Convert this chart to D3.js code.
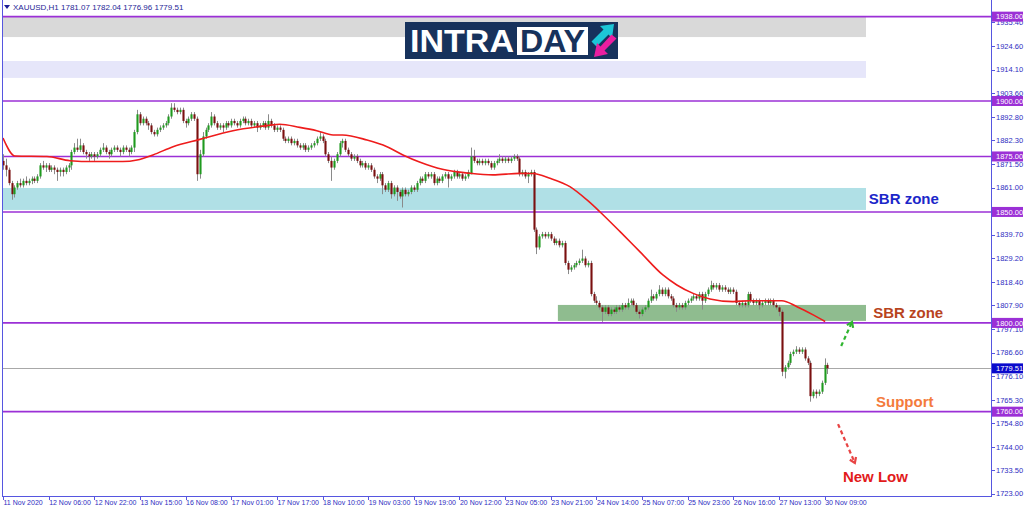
<!DOCTYPE html>
<html><head><meta charset="utf-8">
<script src="https://cdn.jsdelivr.net/npm/d3@7/dist/d3.min.js"></script>
<style>body{margin:0;background:#fff;overflow:hidden}svg{display:block}</style>
</head><body><svg id="c" width="1024" height="511"></svg>
<script>
// ---------- DATA (OHLC per H1 bar) ----------
const week1 = [
[1873,1876,1869,1871],[1871,1874,1866,1869],[1869,1870,1862,1863],[1863,1864,1855.5,1858],[1858,1862,1856.5,1861],
[1861,1864,1860,1863],[1863,1865,1861,1862],[1862,1865,1861,1864],[1864,1866,1862,1863],[1863,1865,1862,1864],
[1864,1866,1862.5,1865],[1865,1866,1863,1864],[1864,1867,1863,1866],[1866,1872,1865,1871],[1871,1873,1869,1870],
[1870,1872,1868,1871],[1871,1872,1868,1869],[1869,1871,1868,1870],[1870,1871,1867,1869],[1869,1870,1864,1868],
[1868,1870,1866,1869],[1869,1870,1866,1868],[1868,1871,1867,1870],[1870,1872,1868,1871],[1871,1878,1869,1877],
[1877,1881,1876,1879],[1879,1883,1877,1878],[1878,1883,1877,1880],[1880,1881,1876,1877],[1877,1878,1874,1876],
[1876,1877,1873,1875],[1875,1877,1874,1876],[1876,1877,1873,1875],[1875,1877,1874,1876],[1876,1879,1875,1878],
[1878,1881,1877,1879],[1879,1880,1876,1877],[1877,1878,1874,1876],[1876,1879,1875,1878],[1878,1880,1877,1879],
[1879,1880,1877,1878],[1878,1879,1875,1877],[1877,1880,1876,1879],[1879,1880,1877,1878],[1878,1879,1875,1877],
[1877,1880,1876,1879],[1879,1887,1877,1886],[1886,1896,1885,1894],[1894,1895,1889,1890],[1890,1893,1889,1892],
[1892,1893,1889,1890],[1890,1891,1887,1889],[1889,1890,1885,1886],[1886,1887,1884,1885],[1885,1888,1884,1887],
[1887,1889,1886,1888]
];
const week2 = [
[1888,1890,1887,1889],[1889,1891,1888,1890],[1890,1894,1889,1893],[1893,1899,1892,1897],[1897,1899,1895,1896],
[1896,1897,1894,1895],[1895,1897,1894,1896],[1896,1897,1890,1891],[1891,1892,1888,1890],[1890,1893,1889,1892],
[1892,1895,1891,1894],[1894,1895,1891,1892],[1892,1893,1864,1867],[1867,1878,1865,1876],[1876,1886,1875,1884],
[1884,1888,1883,1887],[1887,1890,1886,1889],[1889,1895,1888,1893],[1893,1894,1889,1890],[1890,1891,1887,1888],
[1888,1890,1887,1889],[1889,1890,1886,1888],[1888,1891,1887,1890],[1890,1891,1888,1889],[1889,1892,1888,1891],
[1891,1892,1889,1890],[1890,1891,1888,1889],[1889,1892,1888,1891],[1891,1893,1890,1892],[1892,1893,1889,1890],
[1890,1892,1889,1891],[1891,1892,1888,1889],[1889,1891,1888,1890],[1890,1891,1886,1888],[1888,1890,1887,1889],
[1889,1891,1888,1890],[1890,1891,1887,1888],[1888,1894,1887,1891],[1891,1892,1888,1889],[1889,1890,1886,1887],
[1887,1889,1886,1888],[1888,1889,1886,1887],[1887,1888,1882,1883],[1883,1884,1881,1882],[1882,1884,1881,1883],
[1883,1884,1880,1881],[1881,1883,1880,1882],[1882,1883,1879,1880],[1880,1881,1878,1879],[1879,1881,1878,1880],
[1880,1881,1877,1878],[1878,1880,1877,1879],[1879,1881,1878,1880],[1880,1882,1879,1881],[1881,1884,1880,1883],
[1883,1886,1882,1884],[1884,1885,1881,1882],[1882,1883,1875,1876],[1876,1877,1872,1873],[1873,1875,1864,1870],
[1870,1874,1869,1873],[1873,1877,1872,1876],[1876,1882,1875,1881],[1881,1883,1879,1882],[1882,1883,1877,1878],
[1878,1879,1875,1876],[1876,1877,1873,1874],[1874,1876,1873,1875],[1875,1876,1872,1873],[1873,1874,1870,1871],
[1871,1873,1870,1872],[1872,1873,1869,1870],[1870,1872,1869,1871],[1871,1872,1868,1869],[1869,1870,1865,1866],
[1866,1867,1863,1865],[1865,1868,1864,1867],[1867,1868,1858,1862],[1862,1863,1859,1860],[1860,1864,1859,1863],
[1863,1864,1856,1858],[1858,1862,1857,1861],[1861,1862,1855,1859],[1859,1860,1856,1857],[1857,1861,1852,1860],
[1860,1861,1857,1858],[1858,1860,1857,1859],[1859,1862,1858,1861],[1861,1862,1859,1860],[1860,1864,1859,1863],
[1863,1866,1862,1865],[1865,1866,1863,1864],[1864,1868,1863,1867],[1867,1868,1865,1866],[1866,1868,1865,1867],
[1867,1868,1862,1863],[1863,1866,1862,1865],[1865,1866,1863,1864],[1864,1867,1863,1866],[1866,1868,1865,1867],
[1867,1868,1861,1865],[1865,1867,1864,1866],[1866,1869,1865,1868],[1868,1869,1865,1866],[1866,1868,1865,1867],
[1867,1868,1864,1865],[1865,1867,1864,1866],[1866,1869,1865,1868],[1867,1879,1867,1875],[1875,1878,1872,1873],
[1873,1874,1871,1872],[1872,1874,1871,1873],[1873,1874,1871,1872],[1872,1874,1871,1873],[1873,1874,1871,1872]
];
const week3 = [
[1872,1873,1869,1870],[1870,1873,1869,1872],[1872,1874,1871,1873],[1873,1876,1872,1874],[1874,1875,1872,1873],
[1873,1875,1872,1874],[1874,1875,1872,1873],[1873,1875,1872,1874],[1874,1876,1873,1875],[1875,1876,1873,1874],
[1874,1875,1866,1867],[1867,1869,1866,1868],[1868,1869,1865,1866],[1866,1868,1863,1867],[1867,1869,1866,1868],
[1868,1869,1841,1842],[1842,1843,1831,1834],[1834,1840,1833,1839],[1839,1841,1838,1840],[1840,1841,1838,1839],
[1839,1841,1838,1840],[1840,1841,1837,1838],[1838,1839,1835,1836],[1836,1838,1835,1837],[1837,1838,1834,1835],
[1835,1837,1834,1836],[1836,1837,1826,1827],[1827,1828,1822,1824],[1824,1826,1823,1825],[1825,1827,1824,1826],
[1826,1828,1825,1827],[1827,1829,1826,1828],[1828,1833,1827,1829],[1829,1830,1825,1826],[1826,1828,1825,1827],
[1827,1828,1812,1813],[1813,1814,1809,1810],[1810,1812,1808,1809],[1809,1810,1806,1807],[1807,1808,1800.5,1805],
[1805,1808,1804,1807],[1807,1808,1803,1804],[1804,1807,1803,1806],[1806,1807,1804,1805],[1805,1808,1804,1807],
[1807,1808,1805,1806],[1806,1809,1805,1808],[1808,1809,1806,1807],[1807,1811,1806,1809],[1809,1811,1808,1810],
[1810,1811,1807,1808],[1808,1809,1804,1805],[1805,1806,1802,1804],[1804,1807,1803,1806],[1806,1808,1805,1807],
[1807,1811,1806,1810],[1810,1815,1809,1812],[1812,1813,1810,1811],[1811,1814,1810,1813],[1813,1817,1812,1815],
[1815,1816,1812,1813],[1813,1816,1812,1815],[1815,1816,1811,1812],[1812,1813,1810,1811],[1811,1812,1807,1808],
[1808,1809,1805,1807],[1807,1809,1806,1808],[1808,1809,1806,1807],[1807,1810,1806,1809],[1809,1811,1808,1810],
[1810,1812,1809,1811],[1811,1813,1810,1812],[1812,1813,1810,1811],[1811,1814,1810,1813],[1813,1814,1806,1810],
[1810,1814,1809,1813],[1813,1816,1812,1815],[1815,1819,1814,1817],[1817,1818,1815,1816],[1816,1818,1815,1817],
[1817,1818,1814,1815],[1815,1817,1814,1816],[1816,1817,1814,1815],[1815,1816,1813,1814],[1814,1816,1813,1815],
[1815,1816,1813,1814],[1814,1815,1808,1809],[1809,1810,1807,1808],[1808,1810,1807,1809],[1809,1810,1807,1808],
[1808,1814,1807,1813],[1813,1814,1809,1810],[1810,1811,1808,1809],[1809,1811,1808,1810],[1810,1811,1806,1808],
[1808,1810,1807,1809],[1809,1811,1808,1810],[1810,1811,1808,1809],[1809,1811,1808,1810],[1810,1811,1807,1808],
[1808,1809,1806,1807],[1807,1808,1803,1805],[1805,1806,1776,1778],[1778,1781,1775,1780],[1780,1783,1779,1782],
[1782,1787,1781,1786],[1786,1788,1785,1787],[1787,1789.5,1786,1788],[1788,1789,1786,1787]
];
const week4 = [
[1787,1789,1786,1788],[1788,1789,1783,1784],[1784,1785,1781,1782],[1782,1783,1764.5,1767],[1767,1770,1766,1769],
[1769,1770,1766,1768],[1768,1770,1767,1769],[1769,1774,1768,1773],[1773,1784,1772,1781],[1781.07,1782.04,1776.96,1779.51]
];
const timeLabels = ["11 Nov 2020","12 Nov 06:00","12 Nov 22:00","13 Nov 15:00","16 Nov 08:00","17 Nov 01:00",
  "17 Nov 17:00","18 Nov 10:00","19 Nov 03:00","19 Nov 19:00","20 Nov 12:00","23 Nov 05:00","23 Nov 21:00",
  "24 Nov 14:00","25 Nov 07:00","25 Nov 23:00","26 Nov 16:00","27 Nov 13:00","30 Nov 09:00"];
const barsPerLabel = 16;
const priceTicks = [1935.40,1924.60,1914.10,1903.60,1892.80,1882.30,1871.50,1861.00,1839.70,1829.20,1818.40,
  1807.90,1797.10,1786.60,1776.10,1765.30,1754.80,1744.00,1733.50,1723.00];
const levels = [1938,1900,1875,1850,1800,1760];
const lastPrice = 1779.51;
const header = ["XAUUSD,H1", "1781.07", "1782.04", "1776.96", "1779.51"];
// moving average (read at sample bars)
const maBars = [0,4.2,15.4,23.5,31.5,42,47,52.6,59.6,69,80.6,92.5,97,104,110,115.7,119,127.6,134.6,140.2,146,154,
  163.7,171.7,181,185.8,191.7,198.7,204.7,209.2,216.3,223.3,231.3,236.2,241.9,247.8,255.9,261.8,273,278.3,284,288.2];
const maValues = [1883.3,1875.2,1875.0,1873.1,1872.7,1872.7,1873.4,1875.7,1879.4,1882.7,1886.6,1888.9,1889.5,1888.1,
  1886.6,1884.7,1884.7,1882.4,1879.4,1875.7,1872.5,1869.2,1867.4,1866.7,1867.4,1867.3,1865.2,1861.4,1855.4,1850.1,
  1841.1,1832,1821.6,1817.1,1813.3,1810.8,1809.6,1810,1810,1807.3,1803.6,1800.6];
// shaded zones: [top price, bottom price, start bar, end bar]
const zoneTop    = [1938, 1918.0, 1860.8, 1808.1];
const zoneBottom = [1928.8, 1910.4, 1850.9, 1800.9];
const zoneStart  = [-0.4, -0.4, -0.4, 194.5];
const zoneEnd    = [302.5, 302.5, 302.5, 302.5];

// ---------- DRAW ----------
const candles = week1.concat(week2, week3, week4);
const W = 1024, H = 511, L = 2, R = 991, T = 0, B = 496;
const x = d3.scaleLinear().domain([0, 346]).range([3, 990.1]);
const y = d3.scaleLinear().domain([1722, 1943.7]).range([B, 4]);
const svg = d3.select("#c");
const axisBlue = "#5656e0", textBlue = "#2d2dbf", purple = "#9b30d6";
const font = "'Liberation Sans', Arial, sans-serif";

const zoneColors = ["#d9d9d9", "#e6e6fa", "#b0e0e6", "#8fbc8f"];
svg.append("g").selectAll("rect").data(zoneTop).join("rect")
  .attr("x", (d,i) => Math.max(L, x(zoneStart[i])))
  .attr("width", (d,i) => x(zoneEnd[i]) - Math.max(L, x(zoneStart[i])))
  .attr("y", d => y(d)).attr("height", (d,i) => y(zoneBottom[i]) - y(d))
  .attr("fill", (d,i) => zoneColors[i]);

// levels
svg.append("g").selectAll("line").data(levels).join("line")
  .attr("x1", L).attr("x2", R).attr("y1", d => y(d)).attr("y2", d => y(d))
  .attr("stroke", purple).attr("stroke-width", 1.6);
svg.append("line").attr("x1", L).attr("x2", R).attr("y1", Math.round(y(lastPrice))+0.5).attr("y2", Math.round(y(lastPrice))+0.5)
  .attr("stroke", "#a8a8a8").attr("stroke-width", 1);

// candles
const bw = 2.1;
const cg = svg.append("g");
cg.selectAll("line").data(candles).join("line")
  .attr("x1", (d,i) => Math.round(x(i)) + 0.5).attr("x2", (d,i) => Math.round(x(i)) + 0.5)
  .attr("y1", d => y(d[1])).attr("y2", d => y(d[2]))
  .attr("stroke", "#8a8a8a").attr("stroke-width", 1);
cg.selectAll("rect").data(candles).join("rect")
  .attr("x", (d,i) => Math.round(x(i)) + 0.5 - bw/2).attr("width", bw)
  .attr("y", d => y(Math.max(d[0], d[3])))
  .attr("height", d => Math.max(1, Math.abs(y(d[0]) - y(d[3]))))
  .attr("fill", d => d[3] >= d[0] ? "#1f9a1f" : "#7a1010");

// MA
const ma = maBars.map((b,i) => [b, maValues[i]]);
svg.append("path").datum(ma)
  .attr("d", d3.line().x(d => x(d[0])).y(d => y(d[1])).curve(d3.curveMonotoneX))
  .attr("fill", "none").attr("stroke", "#ee1c1c").attr("stroke-width", 1.6);

// frame
svg.append("line").attr("x1", L+0.5).attr("x2", L+0.5).attr("y1", 0).attr("y2", B+0.5).attr("stroke", axisBlue);
svg.append("line").attr("x1", R+0.5).attr("x2", R+0.5).attr("y1", 0).attr("y2", B+0.5).attr("stroke", axisBlue);
svg.append("line").attr("x1", L).attr("x2", R+1).attr("y1", B+0.5).attr("y2", B+0.5).attr("stroke", axisBlue);

// right axis ticks
const ra = svg.append("g").attr("font-family", font).attr("font-size", "7.5px");
ra.selectAll("line").data(priceTicks).join("line")
  .attr("x1", R+1).attr("x2", R+4).attr("y1", d => Math.round(y(d))+0.5).attr("y2", d => Math.round(y(d))+0.5)
  .attr("stroke", axisBlue);
ra.selectAll("text").data(priceTicks).join("text")
  .attr("x", R+5).attr("y", d => y(d)).attr("dy", "0.35em").attr("fill", textBlue)
  .text(d => d.toFixed(2));
// level labels
const ll = svg.append("g").attr("font-family", font).attr("font-size", "7.5px");
ll.selectAll("rect").data(levels.concat([lastPrice])).join("rect")
  .attr("x", R+1).attr("width", 31).attr("y", d => y(d) - 5).attr("height", 10)
  .attr("fill", d => d === lastPrice ? "#0a0acc" : purple);
ll.selectAll("text").data(levels.concat([lastPrice])).join("text")
  .attr("x", R+5).attr("y", d => y(d)).attr("dy", "0.35em").attr("fill", "#fff")
  .text(d => d.toFixed(2));

// bottom axis
const ba = svg.append("g").attr("font-family", font).attr("font-size", "7px");
ba.selectAll("line").data(timeLabels).join("line")
  .attr("x1", (d,i) => Math.round(x(i*barsPerLabel))+0.5).attr("x2", (d,i) => Math.round(x(i*barsPerLabel))+0.5)
  .attr("y1", B).attr("y2", B+4).attr("stroke", axisBlue);
ba.selectAll("text").data(timeLabels).join("text")
  .attr("x", (d,i) => x(i*barsPerLabel) + 0.5).attr("y", 505).attr("fill", textBlue).text(d => d);

// header
svg.append("path").attr("d", "M4,5 L10,5 L7,9 Z").attr("fill", "#1e1e96");
svg.append("text").attr("x", 13).attr("y", 10).attr("font-family", font).attr("font-size", "8px")
  .attr("fill", "#1e1e96").text(header[0] + "  " + header.slice(1).join(" "));

// logo
const lg = svg.append("g");
lg.append("rect").attr("x", 405).attr("y", 22).attr("width", 213).attr("height", 37).attr("fill", "#17325c");
lg.append("text").attr("x", 410).attr("y", 52).attr("font-family", font).attr("font-weight", "bold")
  .attr("font-size", "31px").attr("fill", "#fff").attr("textLength", 104).attr("lengthAdjust", "spacingAndGlyphs").text("INTRA");
lg.append("rect").attr("x", 517).attr("y", 27).attr("width", 71).attr("height", 28).attr("fill", "#fff");
lg.append("text").attr("x", 520).attr("y", 52).attr("font-family", font).attr("font-weight", "bold")
  .attr("font-size", "31px").attr("fill", "#17325c").attr("textLength", 65).attr("lengthAdjust", "spacingAndGlyphs").text("DAY");
lg.append("path").attr("d", "M591.5,41.5 L603.5,29.5 L600,26 L614,24 L612,38 L608.5,34.5 L596.5,46.5 Z").attr("fill", "#1cc6d6");
lg.append("path").attr("d", "M616.5,38.5 L604.5,50.5 L608,54 L594,57 L597,43 L600.5,46.5 L611.5,34.5 Z").attr("fill", "#ea1ea0");

// annotations
const ann = svg.append("g").attr("font-family", font).attr("font-weight", "bold").attr("font-size", "15px");
ann.append("text").attr("x", x(303.5)).attr("y", y((zoneTop[2]+zoneBottom[2])/2)).attr("dy", "0.35em").attr("fill", "#1c27c9").text("SBR zone");
ann.append("text").attr("x", x(305)).attr("y", y((zoneTop[3]+zoneBottom[3])/2)).attr("dy", "0.35em").attr("fill", "#b8441e").text("SBR zone");
ann.append("text").attr("x", x(306)).attr("y", y(1764.4)).attr("dy", "0.35em").attr("fill", "#f47b3c").text("Support");
ann.append("text").attr("x", x(294.4)).attr("y", y(1730.5)).attr("dy", "0.35em").attr("fill", "#e21b1b").text("New Low");

// dashed arrows
function arrow(x1, y1, x2, y2, color) {
  svg.append("line").attr("x1", x1).attr("y1", y1).attr("x2", x2).attr("y2", y2)
    .attr("stroke", color).attr("stroke-width", 2.2).attr("stroke-dasharray", "4,3");
  const a = Math.atan2(y2 - y1, x2 - x1), s = 6;
  const p1 = [x2 - s*Math.cos(a - 0.6), y2 - s*Math.sin(a - 0.6)];
  const p2 = [x2 - s*Math.cos(a + 0.6), y2 - s*Math.sin(a + 0.6)];
  svg.append("path").attr("d", `M${p1} L${x2},${y2} L${p2}`).attr("fill", "none")
    .attr("stroke", color).attr("stroke-width", 2.2);
}
arrow(x(293.8), y(1789.6), x(297.6), y(1800.4), "#2fb52f");
arrow(x(292.7), y(1754.4), x(298.6), y(1736.9), "#e84444");
</script></body></html>
